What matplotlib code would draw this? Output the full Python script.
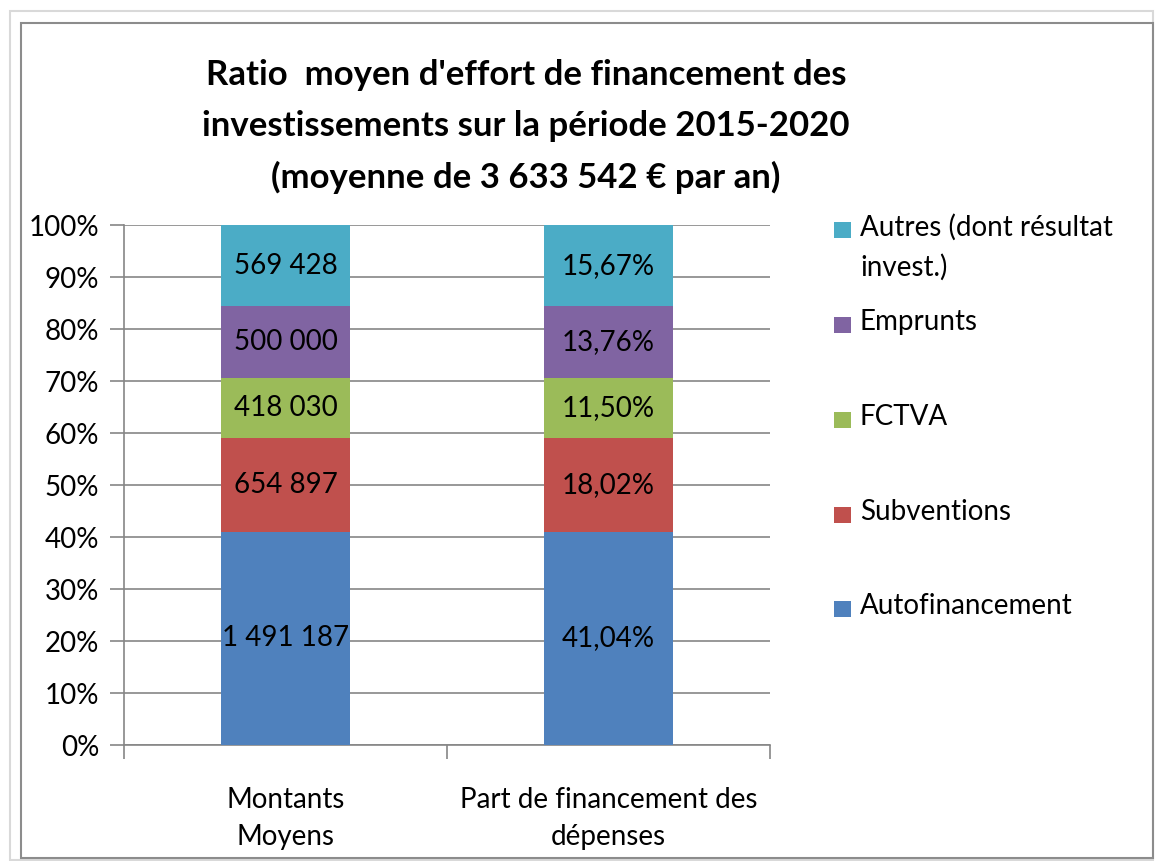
import matplotlib
matplotlib.use("Agg")
import matplotlib.pyplot as plt
from matplotlib.patches import Rectangle


categories = ["Montants\nMoyens", "Part de financement des\ndépenses"]

series_names = [
    "Autofinancement",
    "Subventions",
    "FCTVA",
    "Emprunts",
    "Autres (dont résultat\ninvest.)",
]
series_colors = ["#4F81BD", "#C0504D", "#9BBB59", "#8064A2", "#4BACC6"]

montants = [1491187, 654897, 418030, 500000, 569428]
parts = [41.04, 18.02, 11.50, 13.76, 15.67]

montant_labels = ["1 491 187", "654 897", "418 030", "500 000", "569 428"]
part_labels = ["41,04%", "18,02%", "11,50%", "13,76%", "15,67%"]

title_lines = [
    "Ratio  moyen d'effort de financement des",
    "investissements sur la période 2015-2020",
    "(moyenne de 3 633 542 € par an)",
]

W, H = 1155, 861
AXIS_GREY = "#868686"

plt.rcParams["font.family"] = ["Lato", "DejaVu Sans"]

fig = plt.figure(figsize=(W / 100, H / 100), dpi=100)
fig.patch.set_facecolor("white")

# chart frames (outer light, inner darker)
fig.patches.append(Rectangle((10 / W, 1 - 860 / H), 1143 / W, 849 / H,
                             transform=fig.transFigure, fill=False,
                             edgecolor="#d9d9d9", linewidth=1.5))
fig.patches.append(Rectangle((21 / W, 1 - 858 / H), 1132 / W, 835 / H,
                             transform=fig.transFigure, fill=False,
                             edgecolor="#8c8c8c", linewidth=1.5))

ax = fig.add_axes([124 / W, 1 - 745 / H, (770 - 124) / W, (745 - 225) / H])

# normalise each column to 100 %
tot_m = sum(montants)
tot_p = sum(parts)
cols = [
    [v / tot_m * 100 for v in montants],
    [v / tot_p * 100 for v in parts],
]
labels = [montant_labels, part_labels]

bar_w = 0.4
for c in range(len(categories)):
    bottom = 0.0
    for i in range(len(series_names)):
        h = cols[c][i]
        ax.bar(c, h, bottom=bottom, width=bar_w, color=series_colors[i],
               edgecolor="none", zorder=3)
        ax.text(c, bottom + h / 2, labels[c][i], ha="center", va="center",
                fontsize=20, color="black", zorder=4)
        bottom += h

ax.set_xlim(-0.5, 1.5)
ax.set_ylim(0, 100)

ax.set_yticks(range(0, 101, 10))
ax.set_yticklabels([f"{v}%" for v in range(0, 101, 10)], fontsize=20)
ax.yaxis.grid(True, color=AXIS_GREY, linewidth=1.2, zorder=0)

ax.set_xticks([-0.5, 0.5, 1.5])
ax.set_xticklabels([])
ax.set_xticks([0, 1], minor=True)
ax.set_xticklabels(categories, minor=True, fontsize=20, linespacing=1.55)
ax.tick_params(axis="x", which="minor", length=0, pad=30)
ax.tick_params(axis="x", which="major", length=10, width=1.2,
               color=AXIS_GREY, direction="out")
ax.tick_params(axis="y", length=10, width=1.2, color=AXIS_GREY, pad=8)

for side in ["top", "right"]:
    ax.spines[side].set_visible(False)
for side in ["left", "bottom"]:
    ax.spines[side].set_color(AXIS_GREY)
    ax.spines[side].set_linewidth(1.2)

title_y = [75, 126, 177]
for line, y in zip(title_lines, title_y):
    fig.text(526 / W, 1 - y / H, line, ha="center", va="center",
             fontsize=25, fontweight="bold")

# legend, top entry first
legend_y = [230, 325, 420, 515, 609]
for k, i in enumerate(reversed(range(len(series_names)))):
    y = legend_y[k]
    fig.patches.append(Rectangle((834 / W, 1 - (y + 8) / H), 17 / W, 16 / H,
                                 transform=fig.transFigure,
                                 facecolor=series_colors[i], edgecolor="none"))
    fig.text(860 / W, 1 - (y - 16) / H, series_names[i], ha="left", va="top",
             fontsize=20, linespacing=1.6)

fig.savefig("out.png", dpi=100)
